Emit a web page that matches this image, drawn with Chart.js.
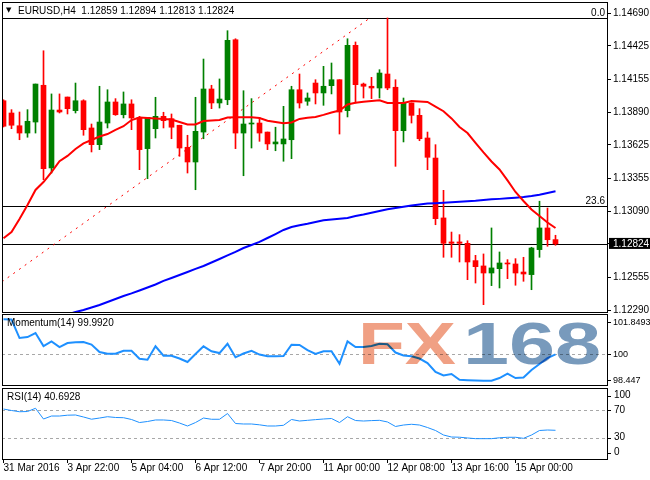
<!DOCTYPE html>
<html>
<head>
<meta charset="utf-8">
<script src="https://cdn.jsdelivr.net/npm/chart.js@4.4.1/dist/chart.umd.min.js"></script>
<style>
  html, body { margin: 0; padding: 0; background: #fff; }
  #wrap { position: relative; width: 650px; height: 480px; overflow: hidden; }
  .pane { position: absolute; left: 0; width: 650px; }
  .pane canvas { display: block; }
  #p-main { top: 0; height: 314px; }
  #p-mom { top: 314px; height: 74px; }
  #p-rsi { top: 388px; height: 92px; }
</style>
</head>
<body>
<div id="wrap">
  <div class="pane" id="p-main"><canvas id="c-main" width="650" height="314"></canvas></div>
  <div class="pane" id="p-mom"><canvas id="c-mom" width="650" height="74"></canvas></div>
  <div class="pane" id="p-rsi"><canvas id="c-rsi" width="650" height="92"></canvas></div>
</div>
<script>
// EURUSD H4, 70 bars
var symbol = 'EURUSD,H4';

var opens = [1.13981, 1.13882, 1.13779, 1.13720, 1.13809, 1.14106, 1.13438, 1.13906, 1.14011, 1.13901,
  1.13981, 1.13761, 1.13626, 1.13801, 1.13971, 1.13868, 1.13955, 1.13847, 1.13594, 1.13755,
  1.13855, 1.13836, 1.13783, 1.13605, 1.13486, 1.13728, 1.14076, 1.13963, 1.13989, 1.14474,
  1.13720, 1.13793, 1.13801, 1.13728, 1.13632, 1.13632, 1.13666, 1.14070, 1.13977, 1.14124,
  1.14044, 1.14103, 1.14151, 1.13901, 1.14429, 1.14116, 1.14098, 1.14084, 1.14197, 1.14090,
  1.13739, 1.13963, 1.13863, 1.13680, 1.13518, 1.13034, 1.12840, 1.12840, 1.12829, 1.12689,
  1.12646, 1.12589, 1.12624, 1.12670, 1.12662, 1.12597, 1.12576, 1.12778, 1.12953, 1.12859];
var highs = [1.13989, 1.13909, 1.13890, 1.13909, 1.14116, 1.14385, 1.14036, 1.14036, 1.14011, 1.14124,
  1.13989, 1.13793, 1.14098, 1.14070, 1.13998, 1.14052, 1.13989, 1.13855, 1.13847, 1.14009,
  1.13888, 1.13874, 1.13783, 1.13702, 1.14009, 1.14318, 1.14106, 1.14157, 1.14547, 1.14482,
  1.14062, 1.13998, 1.13847, 1.13728, 1.13767, 1.13936, 1.14098, 1.14197, 1.14044, 1.14151,
  1.14259, 1.14286, 1.14151, 1.14482, 1.14456, 1.14124, 1.14170, 1.14232, 1.14650, 1.14151,
  1.14003, 1.13963, 1.13917, 1.13728, 1.13626, 1.13257, 1.12920, 1.12899, 1.12850, 1.12732,
  1.12743, 1.12953, 1.12759, 1.12697, 1.12705, 1.12716, 1.12797, 1.13169, 1.13114, 1.12894];
var lows = [1.13769, 1.13755, 1.13666, 1.13686, 1.13720, 1.13343, 1.13397, 1.13882, 1.13874, 1.13882,
  1.13702, 1.13567, 1.13586, 1.13761, 1.13863, 1.13842, 1.13747, 1.13424, 1.13351, 1.13680,
  1.13761, 1.13674, 1.13532, 1.13397, 1.13262, 1.13674, 1.13917, 1.13922, 1.13949, 1.13594,
  1.13375, 1.13599, 1.13653, 1.13586, 1.13577, 1.13492, 1.13513, 1.13922, 1.13944, 1.13955,
  1.13944, 1.14036, 1.13712, 1.13850, 1.13963, 1.14003, 1.13998, 1.14003, 1.14070, 1.13451,
  1.13648, 1.13801, 1.13658, 1.13424, 1.12979, 1.12716, 1.12716, 1.12678, 1.12535, 1.12508,
  1.12333, 1.12487, 1.12468, 1.12543, 1.12490, 1.12522, 1.12454, 1.12716, 1.12805, 1.12813];
var closes = [1.13775, 1.13783, 1.13720, 1.13815, 1.14116, 1.13432, 1.13906, 1.13890, 1.13917, 1.13981,
  1.13747, 1.13626, 1.13809, 1.13971, 1.13868, 1.13955, 1.13842, 1.13586, 1.13847, 1.13855,
  1.13820, 1.13767, 1.13599, 1.13486, 1.13734, 1.14076, 1.13963, 1.13995, 1.14469, 1.13720,
  1.13793, 1.13801, 1.13720, 1.13632, 1.13648, 1.13672, 1.14070, 1.13963, 1.14003, 1.14044,
  1.14098, 1.14151, 1.13890, 1.14429, 1.14111, 1.14098, 1.14084, 1.14205, 1.14084, 1.13739,
  1.13963, 1.13863, 1.13674, 1.13524, 1.13028, 1.12829, 1.12829, 1.12829, 1.12678, 1.12640,
  1.12589, 1.12630, 1.12670, 1.12662, 1.12589, 1.12581, 1.12791, 1.12953, 1.12858, 1.12824];

// moving averages as drawn on the chart
var maFast = [1.12870, 1.12920, 1.13026, 1.13139, 1.13260, 1.13324, 1.13405, 1.13492, 1.13535, 1.13591,
  1.13636, 1.13664, 1.13692, 1.13712, 1.13745, 1.13775, 1.13825, 1.13846, 1.13842, 1.13838,
  1.13834, 1.13830, 1.13809, 1.13789, 1.13789, 1.13817, 1.13821, 1.13825, 1.13846, 1.13847,
  1.13847, 1.13847, 1.13842, 1.13820, 1.13809, 1.13799, 1.13805, 1.13834, 1.13843, 1.13850,
  1.13867, 1.13886, 1.13902, 1.13951, 1.13964, 1.13973, 1.13979, 1.13985, 1.13963, 1.13963,
  1.13963, 1.13979, 1.13975, 1.13971, 1.13934, 1.13896, 1.13838, 1.13769, 1.13720, 1.13640,
  1.13563, 1.13490, 1.13426, 1.13337, 1.13244, 1.13171, 1.13102, 1.13050, 1.12997, 1.12953];
var maSlow = [null, null, null, null, null, null, null, null, 1.12254, 1.12274,
  1.12290, 1.12310, 1.12331, 1.12355, 1.12379, 1.12403, 1.12424, 1.12448, 1.12472, 1.12496,
  1.12525, 1.12549, 1.12573, 1.12597, 1.12622, 1.12646, 1.12674, 1.12702, 1.12731, 1.12759,
  1.12791, 1.12815, 1.12840, 1.12872, 1.12904, 1.12937, 1.12961, 1.12975, 1.12987, 1.13001,
  1.13015, 1.13022, 1.13028, 1.13034, 1.13050, 1.13062, 1.13076, 1.13090, 1.13104, 1.13114,
  1.13124, 1.13134, 1.13143, 1.13150, 1.13153, 1.13157, 1.13160, 1.13164, 1.13169, 1.13173,
  1.13179, 1.13184, 1.13188, 1.13193, 1.13198, 1.13203, 1.13211, 1.13221, 1.13236, 1.13249];

// Fibonacci retracement: trend line anchors and visible levels
var fibBars = [-0.19, 45.81];
var fibAnchors = [1.12518, 1.14650];
var fibNames = ['0.0', '23.6'];
var fibPrices = [1.14650, 1.13128];

var momentum = [102.047, 102.035, 100.950, 101.009, 101.243, 100.481, 100.757, 100.422, 100.657, 100.698,
  100.716, 100.569, 100.129, 100.029, 100.029, 100.205, 100.205, 99.736, 99.677, 100.463,
  99.912, 99.912, 99.748, 99.543, 100.012, 100.463, 100.170, 100.070, 100.616, 99.818,
  100.041, 100.205, 99.982, 99.877, 99.877, 99.894, 100.557, 100.540, 100.246, 100.012,
  100.170, 100.170, 99.443, 100.757, 100.422, 100.422, 100.481, 100.616, 100.581, 100.100,
  99.924, 99.877, 99.748, 99.484, 98.956, 98.751, 98.839, 98.500, 98.480, 98.460,
  98.447, 98.447, 98.604, 98.856, 98.604, 98.633, 99.073, 99.425, 99.777, 99.992];
var rsi = [71.4, 69.3, 67.5, 67.8, 72.5, 57.0, 61.3, 61.3, 62.5, 62.8,
  59.9, 56.7, 58.4, 60.3, 59.2, 58.9, 56.3, 51.9, 53.4, 55.6,
  55.6, 54.8, 51.2, 46.9, 51.9, 58.4, 56.6, 56.6, 64.9, 50.5,
  49.8, 49.8, 48.6, 46.9, 46.9, 47.9, 56.3, 54.1, 55.1, 56.1,
  57.0, 57.7, 51.9, 60.3, 54.8, 54.1, 54.7, 55.1, 52.7, 46.2,
  48.3, 49.4, 48.3, 44.7, 40.4, 33.9, 31.0, 30.7, 29.6, 28.6,
  28.6, 28.6, 29.9, 30.6, 30.6, 29.1, 33.9, 40.4, 41.1, 40.6928];

var priceTicks = [1.12290, 1.12555, 1.12824, 1.13090, 1.13355, 1.13625, 1.13890, 1.14155, 1.14425, 1.14690];
var momTicks = [98.447, 100, 101.8493];
var momTickText = ['98.447', '100', '101.8493'];
var rsiTicks = [0, 30, 70, 100];
var timeBars = [0, 8, 16, 24, 32, 40, 48, 56, 64];
var timeLabels = ['31 Mar 2016', '3 Apr 22:00', '5 Apr 04:00', '6 Apr 12:00', '7 Apr 20:00',
  '11 Apr 00:00', '12 Apr 08:00', '13 Apr 16:00', '15 Apr 00:00'];

var last = closes.length - 1;
var lastPrice = closes[last];

Chart.defaults.font.family = "'Liberation Sans', Arial, sans-serif";
Chart.defaults.font.size = 10;
Chart.defaults.color = '#000';
Chart.defaults.animation = false;
Chart.defaults.events = [];
Chart.defaults.plugins.legend.display = false;
Chart.defaults.plugins.tooltip.enabled = false;

var xMin = -0.1875, xMax = 75.5625;

function pts(arr) {
  return arr.map(function (v, i) { return { x: i, y: v }; });
}

// right-hand price axis: fixed width, no extra room for end labels
function fitRight(s) {
  s.width = 42;
  s.paddingTop = 0;
  s.paddingBottom = 0;
}

function xAxis(show) {
  var ax = {
    type: 'linear', min: xMin, max: xMax, display: show, offset: false,
    grid: { drawOnChartArea: false, drawTicks: true, tickLength: 3, color: '#000' },
    border: { display: false },
    afterBuildTicks: function (s) { s.ticks = timeBars.map(function (v) { return { value: v }; }); },
    ticks: {
      autoSkip: false, maxRotation: 0, minRotation: 0, align: 'start', padding: 0,
      font: { size: 10, lineHeight: 1 },
      callback: function (v) { return timeLabels[timeBars.indexOf(v)]; }
    }
  };
  if (show) {
    ax.afterFit = function (s) { s.height = 20; s.paddingLeft = 0; s.paddingRight = 0; };
  }
  return ax;
}

// frame, level lines, captions and watermark for each panel
var panel = {
  id: 'panel',
  beforeDatasetsDraw: function (chart, args, o) {
    var ctx = chart.ctx, a = chart.chartArea, y = chart.scales.y;
    ctx.save();
    ctx.lineWidth = 1;
    (o.lines || []).forEach(function (l) {
      var py = Math.round(y.getPixelForValue(l.value)) + 0.5;
      ctx.strokeStyle = l.color;
      ctx.setLineDash(l.dash || []);
      ctx.beginPath();
      ctx.moveTo(a.left, py);
      ctx.lineTo(a.right, py);
      ctx.stroke();
      if (l.text) {
        ctx.fillStyle = '#000';
        ctx.font = '10px "Liberation Sans"';
        ctx.textAlign = 'right';
        ctx.textBaseline = 'alphabetic';
        ctx.fillText(l.text, a.right - 3, py - 3);
      }
    });
    ctx.restore();
  },
  afterDatasetsDraw: function (chart, args, o) {
    if (!o.mark) return;
    var ctx = chart.ctx;
    ctx.save();
    ctx.globalCompositeOperation = 'multiply';
    ctx.font = 'bold 60px "Liberation Sans"';
    ctx.textBaseline = 'alphabetic';
    o.mark.forEach(function (m) {
      var w = ctx.measureText(m.text).width;
      ctx.save();
      ctx.translate(m.x, m.y);
      ctx.scale(m.w / w, 1);
      ctx.fillStyle = m.color;
      ctx.fillText(m.text, 0, 0);
      ctx.restore();
    });
    ctx.restore();
  },
  afterDraw: function (chart, args, o) {
    var ctx = chart.ctx, a = chart.chartArea, y = chart.scales.y;
    ctx.save();
    ctx.strokeStyle = '#000';
    ctx.lineWidth = 1;
    ctx.strokeRect(a.left + 0.5, a.top + 0.5, a.right - a.left - 1, a.bottom - a.top - 1);
    ctx.fillStyle = '#000';
    ctx.textBaseline = 'middle';
    ctx.textAlign = 'left';
    if (o.arrow) {
      ctx.font = '7px "DejaVu Sans"';
      ctx.fillText('\u25BC', a.left + 4, a.top + 8);
    }
    ctx.font = '10px "Liberation Sans"';
    ctx.fillText(o.caption, a.left + (o.arrow ? 16 : 5), a.top + (o.arrow ? 9 : 9.5));
    if (o.sideTicks) {
      o.sideTicks.forEach(function (v) {
        var py = Math.min(Math.max(y.getPixelForValue(v), a.top + 7.5), a.bottom - 7.5);
        ctx.beginPath();
        ctx.moveTo(a.right, Math.round(py) + 0.5);
        ctx.lineTo(a.right + 3, Math.round(py) + 0.5);
        ctx.stroke();
        ctx.fillText(String(v), a.right + 6, py);
      });
    }
    ctx.restore();
  }
};

new Chart(document.getElementById('c-main'), {
  type: 'bar',
  data: {
    datasets: [{
      type: 'line', order: 1, data: pts(maFast),
      borderColor: '#ff0000', borderWidth: 2, pointRadius: 0, tension: 0
    }, {
      type: 'line', order: 2, data: pts(maSlow),
      borderColor: '#0000ff', borderWidth: 2, pointRadius: 0, tension: 0
    }, {
      order: 3, grouped: false, barThickness: 5, minBarLength: 1, borderWidth: 0,
      data: opens.map(function (o, i) { return { x: i, y: [o, closes[i]] }; }),
      backgroundColor: function (c) { return closes[c.dataIndex] > opens[c.dataIndex] ? '#008000' : '#ff0000'; }
    }, {
      order: 4, grouped: false, barThickness: 1, borderWidth: 0,
      data: lows.map(function (l, i) { return { x: i, y: [l, highs[i]] }; }),
      backgroundColor: function (c) { return closes[c.dataIndex] > opens[c.dataIndex] ? '#008000' : '#ff0000'; }
    }, {
      type: 'line', order: 5,
      data: fibBars.map(function (b, i) { return { x: b, y: fibAnchors[i] }; }),
      borderColor: '#ff0000', borderWidth: 1, borderDash: [2, 5], pointRadius: 0
    }]
  },
  options: {
    responsive: false,
    layout: { padding: { left: 2, top: 2, right: 0, bottom: 1 } },
    scales: {
      x: xAxis(false),
      y: {
        position: 'right', min: 1.122658, max: 1.147789,
        grid: { drawOnChartArea: false, drawTicks: true, tickLength: 3, color: '#000' },
        border: { display: false },
        afterFit: fitRight,
        afterBuildTicks: function (s) { s.ticks = priceTicks.map(function (v) { return { value: v }; }); },
        ticks: {
          padding: 2,
          font: { size: 10, lineHeight: 1 },
          showLabelBackdrop: true,
          backdropPadding: { left: 4, right: 2, top: 1, bottom: 0 },
          backdropColor: function (c) { return c.tick && c.tick.value === lastPrice ? '#000' : 'rgba(0,0,0,0)'; },
          color: function (c) { return c.tick && c.tick.value === lastPrice ? '#fff' : '#000'; },
          callback: function (v) { return v.toFixed(5); }
        }
      }
    },
    plugins: {
      panel: {
        arrow: true,
        caption: symbol + '  ' + [opens[last], highs[last], lows[last], closes[last]].map(function (v) { return v.toFixed(5); }).join(' '),
        lines: [
          { value: fibPrices[0], color: '#000', text: fibNames[0] },
          { value: fibPrices[1], color: '#000', text: fibNames[1] },
          { value: lastPrice, color: '#000' }
        ]
      }
    }
  },
  plugins: [panel]
});

new Chart(document.getElementById('c-mom'), {
  type: 'line',
  data: {
    datasets: [{
      data: pts(momentum), borderColor: '#1e90ff', borderWidth: 2, pointRadius: 0, tension: 0
    }]
  },
  options: {
    responsive: false,
    layout: { padding: { left: 2, top: 0, right: 0, bottom: 2 } },
    scales: {
      x: xAxis(false),
      y: {
        position: 'right', min: 98.136, max: 102.3596,
        grid: { drawOnChartArea: false, drawTicks: true, tickLength: 3, color: '#000' },
        border: { display: false },
        afterFit: fitRight,
        afterBuildTicks: function (s) { s.ticks = momTicks.map(function (v) { return { value: v }; }); },
        ticks: {
          padding: 2,
          font: { size: 9 },
          callback: function (v) { return momTickText[momTicks.indexOf(v)]; }
        }
      }
    },
    plugins: {
      panel: {
        caption: 'Momentum(14) ' + momentum[last].toFixed(4),
        lines: [{ value: 100, color: '#a8a8a8', dash: [3, 3] }],
        mark: [
          { text: 'FX', x: 358, y: 50, w: 98, color: 'rgb(240,160,132)' },
          { text: '168', x: 463, y: 50, w: 138, color: 'rgb(120,154,188)' }
        ]
      }
    }
  },
  plugins: [panel]
});

new Chart(document.getElementById('c-rsi'), {
  type: 'line',
  data: {
    datasets: [{
      data: pts(rsi), borderColor: '#1e90ff', borderWidth: 1, pointRadius: 0, tension: 0
    }]
  },
  options: {
    responsive: false,
    layout: { padding: { left: 2, top: 0, right: 0, bottom: 0 } },
    scales: {
      x: xAxis(true),
      y: {
        position: 'right', min: -2.2, max: 101.77,
        grid: { display: false },
        border: { display: false },
        afterFit: fitRight,
        ticks: { display: false }
      }
    },
    plugins: {
      panel: {
        caption: 'RSI(14) ' + rsi[last].toFixed(4),
        lines: [
          { value: 70, color: '#a8a8a8', dash: [3, 3] },
          { value: 30, color: '#a8a8a8', dash: [3, 3] }
        ],
        sideTicks: rsiTicks
      }
    }
  },
  plugins: [panel]
});
</script>
</body>
</html>
